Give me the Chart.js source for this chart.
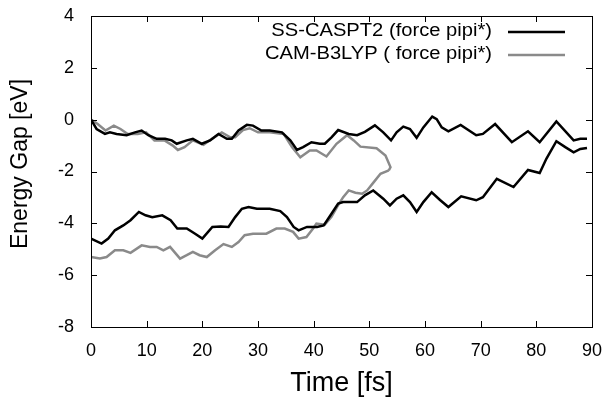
<!DOCTYPE html>
<html>
<head>
<meta charset="utf-8">
<script src="https://cdn.jsdelivr.net/npm/chart.js@4.4.1/dist/chart.umd.min.js"></script>
<style>
  html, body { margin: 0; padding: 0; background: #fff; }
  #wrap { width: 611px; height: 404px; }
</style>
</head>
<body>
<div id="wrap"><canvas id="gapChart" width="611" height="404"></canvas></div>
<script>
// legend names and axis titles
var seriesNames = ['SS-CASPT2 (force pipi*)', 'CAM-B3LYP ( force pipi*)'];
var xTitle = 'Time [fs]';
var yTitle = 'Energy Gap [eV]';

// SS-CASPT2, upper branch
var ssUpperTime = [0, 1.0, 2.5, 3.4, 4.6, 6.4, 7.9, 9.1, 10.3, 11.8, 13.3, 14.5, 15.4, 17.2, 18.3, 19.9,
    21.4, 22.9, 24.4, 25.3, 26.5, 28.0, 29.1, 30.6, 32.1, 34.3, 35.8, 37.0, 38.1, 39.6, 41.1, 42.0,
    43.2, 44.4, 46.3, 47.8, 49.2, 51.0, 52.5, 53.9, 54.9, 56.1, 57.3, 58.5, 59.7, 61.3, 62.1, 63.0,
    64.2, 66.4, 69.2, 70.4, 72.6, 75.6, 78.5, 80.6, 83.6, 86.7, 87.9, 89.1];
var ssUpperGap = [0, -0.36, -0.55, -0.49, -0.55, -0.6, -0.49, -0.42, -0.6, -0.74, -0.74, -0.8, -0.93, -0.8, -0.74, -0.93,
    -0.8, -0.55, -0.74, -0.74, -0.42, -0.2, -0.23, -0.42, -0.42, -0.49, -0.8, -1.17, -1.06, -0.87, -0.93, -0.93,
    -0.68, -0.4, -0.55, -0.6, -0.47, -0.22, -0.49, -0.8, -0.49, -0.27, -0.36, -0.7, -0.3, 0.12, 0.02, -0.3,
    -0.45, -0.2, -0.6, -0.55, -0.17, -0.87, -0.45, -0.87, -0.07, -0.8, -0.74, -0.74];

// SS-CASPT2, lower branch
var ssLowerTime = [0, 1.9, 3.1, 4.3, 5.8, 7.1, 8.6, 9.8, 11.0, 12.8, 14.3, 15.5, 17.2, 18.7, 20.0, 21.8,
    23.3, 24.7, 25.9, 27.1, 28.3, 29.8, 32.1, 34.0, 35.2, 36.4, 37.3, 38.8, 40.6, 41.8, 43.2, 44.4,
    45.3, 47.8, 49.2, 50.7, 52.5, 53.7, 54.9, 56.1, 57.3, 58.5, 59.7, 61.2, 62.7, 64.2, 66.5, 69.2,
    70.4, 72.9, 75.9, 78.5, 80.6, 81.8, 83.6, 85.2, 86.7, 87.9, 89.1];
var ssLowerGap = [-4.59, -4.78, -4.59, -4.27, -4.08, -3.88, -3.56, -3.69, -3.76, -3.69, -3.88, -4.2, -4.2, -4.4, -4.59, -4.14,
    -4.12, -4.14, -3.76, -3.44, -3.37, -3.44, -3.44, -3.53, -3.76, -4.14, -4.27, -4.14, -4.14, -4.08, -3.63, -3.24,
    -3.18, -3.18, -2.92, -2.73, -3.05, -3.31, -3.05, -2.92, -3.18, -3.56, -3.18, -2.8, -3.1, -3.37, -2.96, -3.11,
    -2.99, -2.28, -2.6, -1.94, -2.06, -1.51, -0.83, -1.06, -1.26, -1.13, -1.09];

// CAM-B3LYP, upper branch (runs into the turning point near 53 fs)
var camUpperTime = [0, 1.2, 2.6, 4.1, 5.3, 6.6, 8.4, 9.9, 11.4, 13.2, 14.7, 15.6, 16.8, 18.3, 20.2, 21.7,
    23.5, 25.0, 25.9, 27.3, 28.5, 30.0, 32.1, 34.6, 36.1, 37.6, 39.3, 40.5, 42.3, 44.1, 46.0, 47.2,
    48.4, 51.3, 52.9, 53.8, 53.5];
var camUpperGap = [0, -0.17, -0.42, -0.23, -0.36, -0.55, -0.55, -0.49, -0.8, -0.8, -1.0, -1.17, -1.06, -0.8, -0.97, -0.74,
    -0.49, -0.68, -0.68, -0.4, -0.33, -0.49, -0.49, -0.55, -1.06, -1.45, -1.19, -1.19, -1.42, -0.93, -0.6, -0.8,
    -1.04, -1.1, -1.38, -1.83, -1.96];

// CAM-B3LYP, lower branch
var camLowerTime = [0, 1.6, 2.8, 4.3, 5.8, 7.1, 9.1, 10.6, 11.8, 13.0, 14.2, 16.0, 17.2, 18.3, 19.5, 20.8,
    22.3, 23.8, 25.3, 26.5, 27.6, 29.1, 31.5, 33.3, 34.8, 36.3, 37.3, 38.7, 39.9, 40.5, 42.0, 43.2,
    44.4, 45.3, 46.3, 47.5, 48.7, 49.6, 50.8, 52.0, 53.5];
var camLowerGap = [-5.3, -5.36, -5.3, -5.04, -5.04, -5.14, -4.85, -4.91, -4.91, -5.04, -4.91, -5.36, -5.23, -5.1, -5.23, -5.3,
    -5.04, -4.8, -4.91, -4.72, -4.46, -4.4, -4.4, -4.2, -4.2, -4.33, -4.59, -4.53, -4.2, -4.01, -4.05, -3.75,
    -3.3, -2.99, -2.73, -2.82, -2.86, -2.73, -2.41, -2.09, -1.96];

var xTicks = [0, 10, 20, 30, 40, 50, 60, 70, 80, 90];
var yTicks = [-8, -6, -4, -2, 0, 2, 4];

var fontFamily = '"Liberation Sans", Arial, sans-serif';

function pts(t, e) {
    return t.map(function (x, i) { return { x: x, y: e[i] }; });
}

function lineSet(label, t, e, color) {
    return {
        label: label,
        data: pts(t, e),
        showLine: true,
        borderColor: color,
        backgroundColor: color,
        borderWidth: 2.5,
        pointRadius: 0,
        tension: 0,
        fill: false
    };
}

// gnuplot style frame: box all round, ticks pointing inward, key top right
var framePlugin = {
    id: 'frame',
    afterDatasetsDraw: function (chart) {
        var ctx = chart.ctx;
        var a = chart.chartArea;
        var xs = chart.scales.x, ys = chart.scales.y;
        var tl = 6;
        ctx.save();
        ctx.strokeStyle = '#000';
        ctx.lineWidth = 1;
        ctx.beginPath();
        xTicks.forEach(function (v) {
            var px = Math.round(xs.getPixelForValue(v)) + 0.5;
            ctx.moveTo(px, a.bottom); ctx.lineTo(px, a.bottom - tl);
            ctx.moveTo(px, a.top); ctx.lineTo(px, a.top + tl);
        });
        yTicks.forEach(function (v) {
            var py = Math.round(ys.getPixelForValue(v)) + 0.5;
            ctx.moveTo(a.left, py); ctx.lineTo(a.left + tl, py);
            ctx.moveTo(a.right, py); ctx.lineTo(a.right - tl, py);
        });
        ctx.stroke();
        ctx.strokeRect(Math.round(a.left) + 0.5, Math.round(a.top) + 0.5,
            Math.round(a.right - a.left), Math.round(a.bottom - a.top));

        // y axis title, a bit above the middle as in the original
        ctx.fillStyle = '#000';
        ctx.font = '23px ' + fontFamily;
        ctx.textAlign = 'center';
        ctx.textBaseline = 'middle';
        ctx.save();
        ctx.translate(21, 164);
        ctx.rotate(-Math.PI / 2);
        ctx.fillText(yTitle, 0, 0);
        ctx.restore();

        // key (text slightly wider than plain Liberation Sans)
        ctx.font = '18px ' + fontFamily;
        ctx.textAlign = 'right';
        var rows = [{ i: 0, y: 31 }, { i: 2, y: 54 }];
        rows.forEach(function (r) {
            var ds = chart.data.datasets[r.i];
            ctx.save();
            ctx.translate(492, r.y);
            ctx.scale(1.12, 1);
            ctx.fillStyle = '#000';
            ctx.fillText(ds.label, 0, 0);
            ctx.restore();
            ctx.strokeStyle = ds.borderColor;
            ctx.lineWidth = 2.5;
            ctx.beginPath();
            ctx.moveTo(508, r.y + 1);
            ctx.lineTo(565, r.y + 1);
            ctx.stroke();
        });
        ctx.restore();
    }
};

var ctx = document.getElementById('gapChart').getContext('2d');
var gapChart = new Chart(ctx, {
    type: 'scatter',
    data: {
        datasets: [
            lineSet(seriesNames[0], ssUpperTime, ssUpperGap, '#000000'),
            lineSet(seriesNames[0], ssLowerTime, ssLowerGap, '#000000'),
            lineSet(seriesNames[1], camUpperTime, camUpperGap, '#8a8a8a'),
            lineSet(seriesNames[1], camLowerTime, camLowerGap, '#8a8a8a')
        ]
    },
    options: {
        responsive: false,
        animation: false,
        layout: { padding: { top: 16, right: 19, left: 0, bottom: 0 } },
        plugins: {
            legend: { display: false },
            tooltip: { enabled: false }
        },
        scales: {
            x: {
                type: 'linear',
                min: 0,
                max: 90,
                afterFit: function (s) {
                    s.height = 77;
                    s.paddingLeft = 0;
                    s.paddingRight = 0;
                },
                afterBuildTicks: function (s) { s.ticks = xTicks.map(function (v) { return { value: v }; }); },
                ticks: {
                    color: '#000',
                    padding: 13,
                    font: { family: fontFamily, size: 18 }
                },
                grid: { drawOnChartArea: false, drawTicks: false },
                border: { display: false },
                title: {
                    display: true,
                    text: xTitle,
                    color: '#000',
                    padding: { top: 0, bottom: 4 },
                    font: { family: fontFamily, size: 27 }
                }
            },
            y: {
                type: 'linear',
                min: -8,
                max: 4,
                afterFit: function (s) {
                    s.width = 91;
                    s.paddingTop = 0;
                    s.paddingBottom = 0;
                },
                afterBuildTicks: function (s) { s.ticks = yTicks.map(function (v) { return { value: v }; }); },
                ticks: {
                    color: '#000',
                    padding: 17,
                    font: { family: fontFamily, size: 18 }
                },
                grid: { drawOnChartArea: false, drawTicks: false },
                border: { display: false },
                title: { display: false }
            }
        }
    },
    plugins: [framePlugin]
});
</script>
</body>
</html>
